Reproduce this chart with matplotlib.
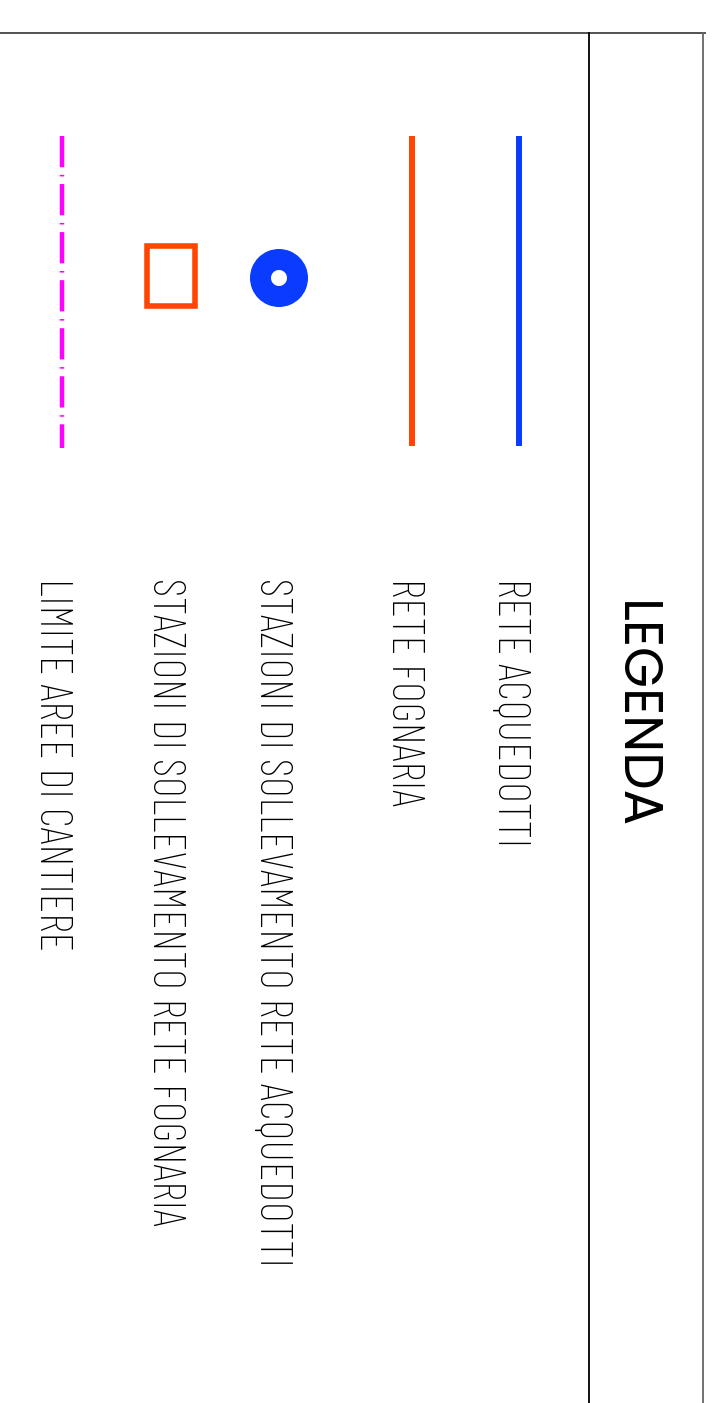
import matplotlib
matplotlib.use("Agg")
import matplotlib.pyplot as plt
from matplotlib.patches import Wedge, Rectangle

plt.rcParams['lines.scale_dashes'] = False

# legend entries, top of the sheet is the left of the drawing
title = "LEGENDA"
labels = ["RETE ACQUEDOTTI",
          "RETE FOGNARIA",
          "STAZIONI DI SOLLEVAMENTO RETE ACQUEDOTTI",
          "STAZIONI DI SOLLEVAMENTO RETE FOGNARIA",
          "LIMITE AREE DI CANTIERE"]
symbols = ["line", "line", "ring", "square", "dashdot"]
colors = ["#0a3cff", "#ff4500", "#0a3cff", "#ff4500", "#ff00ff"]

W, H = 728, 1403
fig = plt.figure(figsize=(W / 100, H / 100), dpi=100)
ax = fig.add_axes([0, 0, 1, 1])
ax.set_xlim(0, W)
ax.set_ylim(H, 0)
ax.axis('off')

# frame
ax.plot([0, 705], [33, 33], color='#444444', lw=1.3)
ax.plot([589, 589], [33, H], color='black', lw=1.3)
ax.plot([703, 703], [33, H], color='#666666', lw=1.3)

# title
ax.text(620, 601, title, rotation=270, rotation_mode='anchor',
        ha='left', va='baseline', fontsize=38, weight=400,
        family=['Poppins', 'DejaVu Sans'])

# rows, x position of each text baseline and symbol centre
text_x = [498, 392, 260, 153, 40]
sym_x = [519, 412, 279, 171, 62]

for lab, kind, col, tx, sx in zip(labels, symbols, colors, text_x, sym_x):
    ax.text(tx, 578, lab, rotation=270, rotation_mode='anchor',
            ha='left', va='baseline', fontsize=32.8, weight=200,
            family=['Barlow Condensed', 'DejaVu Sans'], color='black')
    if kind == "line":
        ax.plot([sx, sx], [136, 446], color=col, lw=4.3, solid_capstyle='butt')
    elif kind == "ring":
        ax.add_patch(Wedge((sx, 278), 29, 0, 360, width=21, facecolor=col, edgecolor='none'))
    elif kind == "square":
        ax.add_patch(Rectangle((sx - 24, 246), 48, 60, fill=False, edgecolor=col, lw=4))
    elif kind == "dashdot":
        ax.plot([sx, sx], [136, 448], color=col, lw=3.2,
                linestyle=(0, (22.5, 5.5, 1.1, 5.5)), dash_capstyle='butt')

fig.savefig("out.png", dpi=100)
